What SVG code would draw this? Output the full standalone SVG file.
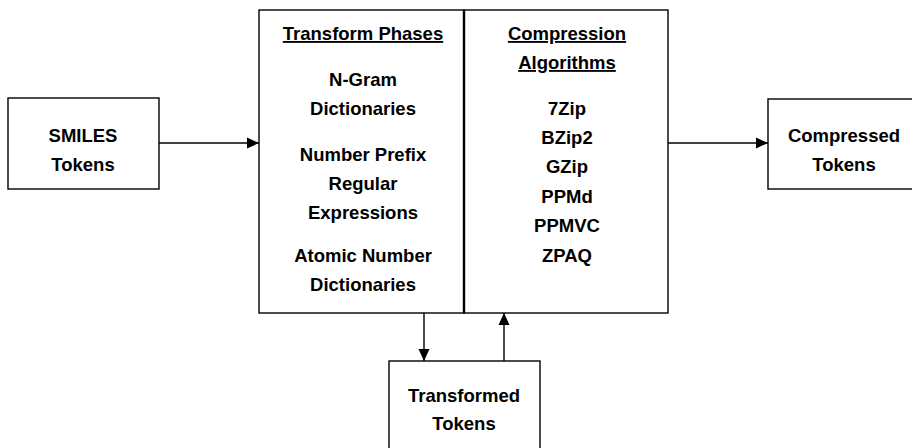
<svg xmlns="http://www.w3.org/2000/svg" width="912" height="448" viewBox="0 0 912 448">
  <defs>
    <style>
      .box { fill: #ffffff; stroke: #000000; stroke-width: 1.4; }
      .lbl { font-family: "Liberation Sans", Arial, sans-serif; font-weight: bold; font-size: 18.5px; fill: #000000; text-anchor: middle; }
      .hdr { text-decoration: underline; }
      .wire { fill: none; stroke: #000000; stroke-width: 1.4; }
    </style>
    <marker id="arrow" viewBox="0 0 12 12" refX="12" refY="6" markerWidth="12" markerHeight="12" markerUnits="userSpaceOnUse" orient="auto">
      <path d="M0,0.5 L12,6 L0,11.5 z" fill="#000000"/>
    </marker>
  </defs>

  <g id="connectors">
    <line class="wire" x1="159" y1="143" x2="259" y2="143" marker-end="url(#arrow)"/>
    <line class="wire" x1="668" y1="143" x2="768" y2="143" marker-end="url(#arrow)"/>
    <line class="wire" x1="424" y1="313" x2="424" y2="361" marker-end="url(#arrow)"/>
    <line class="wire" x1="504" y1="361" x2="504" y2="313" marker-end="url(#arrow)"/>
  </g>

  <g id="smiles-tokens">
    <rect class="box" x="8" y="98" width="151" height="91"/>
    <text class="lbl" x="83" y="142">SMILES</text>
    <text class="lbl" x="83" y="171">Tokens</text>
  </g>

  <g id="transform-phases">
    <rect class="box" x="259" y="10" width="205" height="303"/>
    <text class="lbl hdr" x="363" y="40">Transform Phases</text>
    <text class="lbl" x="363" y="86">N-Gram</text>
    <text class="lbl" x="363" y="115">Dictionaries</text>
    <text class="lbl" x="363" y="161">Number Prefix</text>
    <text class="lbl" x="363" y="190">Regular</text>
    <text class="lbl" x="363" y="219">Expressions</text>
    <text class="lbl" x="363" y="262">Atomic Number</text>
    <text class="lbl" x="363" y="291">Dictionaries</text>
  </g>

  <g id="compression-algorithms">
    <rect class="box" x="464" y="10" width="204" height="303"/>
    <text class="lbl hdr" x="567" y="40">Compression</text>
    <text class="lbl hdr" x="567" y="69">Algorithms</text>
    <text class="lbl" x="567" y="115">7Zip</text>
    <text class="lbl" x="567" y="144">BZip2</text>
    <text class="lbl" x="567" y="173">GZip</text>
    <text class="lbl" x="567" y="203">PPMd</text>
    <text class="lbl" x="567" y="232">PPMVC</text>
    <text class="lbl" x="567" y="262">ZPAQ</text>
  </g>
  <line x1="464" y1="10" x2="464" y2="313" stroke="#000000" stroke-width="2.4"/>

  <g id="compressed-tokens">
    <rect class="box" x="768" y="99" width="152" height="90"/>
    <text class="lbl" x="844" y="142">Compressed</text>
    <text class="lbl" x="844" y="171">Tokens</text>
  </g>

  <g id="transformed-tokens">
    <rect class="box" x="389" y="361" width="151" height="100"/>
    <text class="lbl" x="464" y="402">Transformed</text>
    <text class="lbl" x="464" y="430">Tokens</text>
  </g>
</svg>
